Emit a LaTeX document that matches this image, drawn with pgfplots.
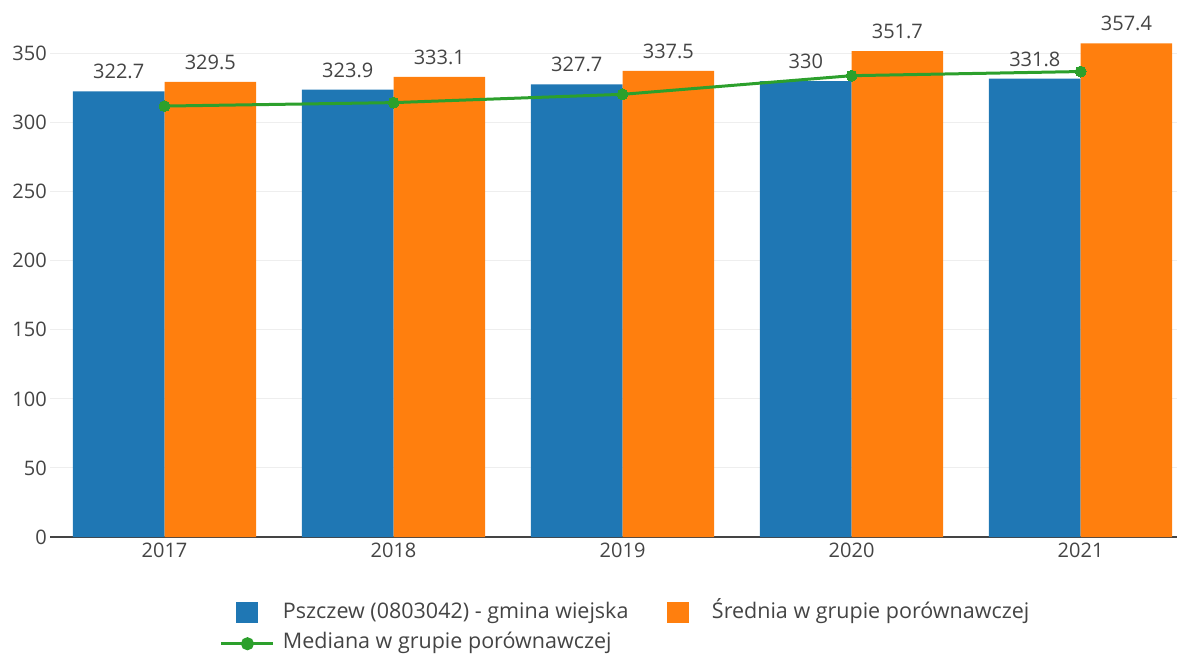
\documentclass[border=0pt]{standalone}
\usepackage{fontspec}
\setmainfont{Open Sans}
\usepackage{pgfplots}
\pgfplotsset{compat=1.18}
\definecolor{cblue}{HTML}{1F77B4}
\definecolor{corange}{HTML}{FF7F0E}
\definecolor{cgreen}{HTML}{2CA02C}
\definecolor{ctext}{HTML}{444444}
\definecolor{cgrid}{HTML}{EEEEEE}
\newcommand{\tfont}{\fontsize{20}{24}\selectfont}
\newcommand{\lfont}{\fontsize{21.5}{26}\selectfont}
\begin{document}
\tfont
\begin{tikzpicture}
\path[use as bounding box] (-50pt,-120pt) rectangle (1127pt,537pt);
\begin{axis}[
  at={(0pt,0pt)}, anchor=south west,
  scale only axis, width=1127pt, height=537pt,
  xmin=-0.5, xmax=4.421, ymin=0, ymax=388.8,
  axis lines*=left,
  axis line style={-},
  x axis line style={ctext, line width=1.2pt},
  y axis line style={draw=none},
  xtick={0,1,2,3,4}, xticklabels={2017,2018,2019,2020,2021},
  ytick={0,50,...,350},
  major tick length=0pt,
  ymajorgrids, grid style={cgrid, line width=1pt},
  tick label style={font=\tfont, text=ctext, inner sep=0pt},
  xticklabel style={anchor=north, yshift=-6pt},
  yticklabel style={anchor=east, xshift=-3pt},
  /pgf/number format/assume math mode=true,
  legend columns=2,
  legend cell align=left,
  legend style={at={(0.1508,-0.1210)}, anchor=north west, draw=none, fill=none,
    inner sep=0pt, outer sep=0pt, row sep=9pt,
    nodes={inner sep=0pt, anchor=west, text height=16pt, text depth=5.5pt, text=ctext, font=\lfont},
    /tikz/every odd column/.append style={column sep=8pt},
    /tikz/every even column/.append style={column sep=25pt}},
]
\addplot[ybar, bar width=0.4, bar shift=-0.2, fill=cblue, draw=none,
  nodes near coords,
  nodes near coords style={anchor=south, inner sep=0pt, xshift=-45.8pt, yshift=12pt, text=ctext, font=\tfont},
  legend image code/.code={\path[draw=none,fill=none] (0pt,-11pt) rectangle (52pt,11pt); \fill[cblue] (15pt,-10.5pt) rectangle (37pt,10.5pt);}]
  coordinates {(0,322.7) (1,323.9) (2,327.7) (3,330) (4,331.8)};
\addlegendentry{\makebox[344pt][l]{Pszczew (0803042) - gmina wiejska}}
\addplot[ybar, bar width=0.4, bar shift=0.2, fill=corange, draw=none,
  nodes near coords,
  nodes near coords style={anchor=south, inner sep=0pt, xshift=45.8pt, yshift=12pt, text=ctext, font=\tfont},
  legend image code/.code={\path[draw=none,fill=none] (0pt,-11pt) rectangle (52pt,11pt); \fill[corange] (15pt,-10.5pt) rectangle (37pt,10.5pt);}]
  coordinates {(0,329.5) (1,333.1) (2,337.5) (3,351.7) (4,357.4)};
\addlegendentry{Średnia w grupie porównawczej}
\addplot[cgreen, line width=3pt, mark=*, mark size=5.5pt, mark options={fill=cgreen, draw=cgreen, line width=0pt},
  legend image code/.code={\draw[cgreen, line width=3pt] (0pt,0pt) -- (52pt,0pt); \fill[cgreen] (26pt,0pt) circle (5pt);}]
  coordinates {(0,312) (1,314.5) (2,320.5) (3,334) (4,337)};
\addlegendentry{Mediana w grupie porównawczej}
\end{axis}
\end{tikzpicture}
\end{document}
